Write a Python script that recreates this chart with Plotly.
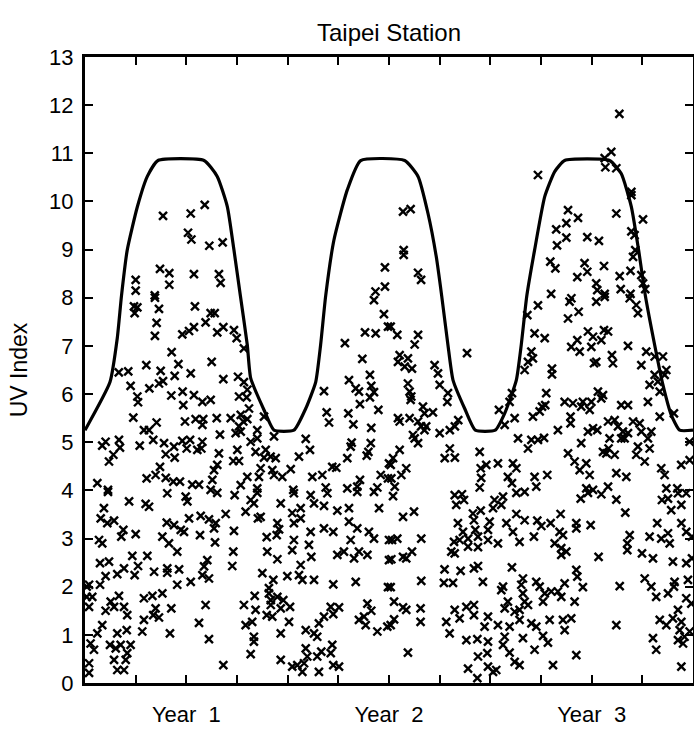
import plotly.graph_objects as go

# ---------------- data ----------------
# x = month since start of record (0-36), y = UV index
obs_a = [(4.62,9.70),(6.26,9.75),(7.09,9.93),(6.10,9.35),(6.30,9.21),(7.36,9.08),(8.15,9.15),(4.44,8.60),
         (4.99,8.51),(4.99,8.27),(6.45,8.49),(7.93,8.49),(8.03,8.31),(3.0,8.37),(3.0,8.15),(4.13,8.05),
         (17.76,8.63),(17.76,8.23),(17.2,8.13)]

obs_b = [(18.83,9.79),(19.28,9.84),(18.87,8.99),(18.87,8.89),(19.72,8.52),(19.9,8.37),(26.82,10.55),
         (31.16,11.03),(30.77,10.90),(30.81,10.71),(31.46,10.69),(32.35,10.20),(32.35,10.13),(31.46,9.75),
         (33.04,9.63),(28.6,9.82),(28.5,9.55),(29.19,9.66),(27.9,9.42),(28.5,9.25),(29.74,9.26),(30.43,9.18),
         (27.95,9.09),(32.35,9.38),(32.54,9.30),(32.58,8.99),(32.45,8.85),(27.55,8.75),(27.85,8.61),
         (29.58,8.72),(29.74,8.54),(30.73,8.66),(29.15,8.43),(31.66,8.45),(32.3,8.56),(32.94,8.47),
         (33.04,8.30),(30.27,8.30),(30.33,8.16),(30.77,8.08),(31.72,8.18),(32.3,8.08),(33.17,8.18),
         (27.6,8.08),(28.8,7.99),(31.64,11.82)]

obs_c = [(2.90,7.82),(3.1,7.80),(2.94,7.68),(4.14,8.0),(4.38,7.77),(4.24,7.48),(4.14,7.21),(6.51,7.82),
         (7.44,7.68),(7.68,7.68),(7.14,7.49),(8.19,7.39),(7.83,7.28),(6.45,7.39),(6.16,7.31),(5.76,7.24),
         (8.82,7.33),(8.98,7.16),(9.41,6.95),(5.13,6.87),(5.53,6.62),(7.50,6.67),(3.63,6.60),(2.0,6.45),
         (2.56,6.47),(4.48,6.48),(5.31,6.38),(6.26,6.43),(4.38,6.22),(4.62,6.27),(3.81,6.12),(2.7,6.17),
         (8.19,6.31),(9.06,6.36),(9.41,6.25),(3.1,5.95),(3.14,5.83),(5.11,5.97),(5.78,6.05),(5.82,5.77),
         (6.45,5.98),(6.95,5.84),(7.44,5.88),(9.12,5.95),(9.57,5.93),(9.61,6.09),(2.86,5.51),(4.24,5.41),
         (5.92,5.43),(6.55,5.48),(7.0,5.48),(6.95,5.36),(7.8,5.50),(8.63,5.50),(9.22,5.57),(9.37,5.43),
         (9.61,5.48),(9.71,5.70),(9.12,5.33),(9.22,5.22),(8.92,5.19),(10.2,5.25),(10.6,5.53),(3.49,5.25),
         (3.79,5.25),(7.99,5.16),(4.04,5.05),(1.22,5.01),(2.01,5.05),(2.07,4.89),(1.02,4.93),(3.24,4.93),
         (4.68,4.98),(5.27,4.91),(5.31,4.68),(4.78,4.75),(5.76,5.03),(6.22,5.05),(6.02,4.87),(6.65,4.84),
         (6.95,5.01),(6.89,4.87),(1.68,4.74),(1.42,4.60),(7.93,4.77),(7.83,4.53),(7.64,4.42),(7.54,4.22),
         (8.78,4.61),(9.12,4.61),(9.02,4.84),(9.81,5.01),(10.2,5.08),(10.1,4.80),(10.7,4.84),(10.6,4.68),
         (10.99,4.70),(11.29,4.67),(11.09,4.42),(11.19,4.32),(10.4,4.46),(10.3,4.28),(11.19,5.12),
         (11.68,4.28),(12.18,4.44),(12.67,4.70),(13.07,5.07),(13.32,4.84),(14.15,6.06),(14.31,5.62),
         (14.45,5.41),(15.39,7.06),(16.42,6.73),(16.58,7.28),(17.21,7.26),(17.11,7.95),(17.70,7.66),
         (17.94,7.40),(15.63,6.29),(16.03,6.12),(16.22,6.05),(16.28,5.79),(16.87,6.40),(16.95,6.17),
         (17.11,6.04),(16.87,5.93),(17.37,5.67),(15.59,5.60),(15.89,5.37),(16.95,5.30),(15.79,4.99),
         (15.73,4.91),(16.92,4.98),(16.78,4.80),(16.68,4.72),(15.53,4.67),(14.64,4.49),(14.88,4.47),
         (13.46,4.28),(14.05,4.32),(18.0,4.56),(17.94,4.25),(16.28,4.22),(17.51,4.32),(15.53,4.04),
         (16.12,4.08),(17.31,4.06),(14.25,4.06),(12.33,4.01),(0.73,4.15),(1.36,4.01),(3.65,4.25),
         (4.18,4.32),(4.44,4.49),(4.78,4.26),(5.23,4.18),(5.62,4.18),(6.35,4.12),(6.75,4.12),(7.44,4.01),
         (9.61,4.28),(9.22,4.11),(10.2,4.04)]

obs_d = [(18.1,7.40),(18.49,7.23),(19.72,7.23),(19.52,7.03),(18.63,6.81),(18.53,6.67),(19.12,6.74),
         (18.93,6.57),(19.36,6.53),(20.7,6.60),(20.9,6.43),(21.0,6.19),(22.62,6.85),(19.12,6.22),
         (19.22,6.05),(19.32,5.95),(19.28,5.88),(21.49,6.02),(21.45,5.84),(20.01,5.74),(20.1,5.60),
         (20.6,5.62),(18.53,5.50),(18.63,5.43),(19.22,5.50),(19.72,5.43),(19.9,5.33),(20.1,5.25),
         (20.2,5.33),(19.42,5.15),(19.52,5.08),(19.72,4.98),(21.0,5.19),(21.6,5.25),(21.9,5.33),
         (22.1,5.46),(21.6,4.87),(21.3,4.67),(21.9,4.68),(18.63,4.84),(18.24,4.67),(18.1,4.53),
         (19.02,4.46),(18.73,4.32),(18.14,4.25),(18.34,4.08),(23.37,4.80),(23.43,4.46),(23.76,4.53),
         (23.46,4.26),(23.37,4.06),(24.51,5.67),(24.85,5.36),(25.14,5.84),(25.28,6.02),(25.44,5.50),
         (24.45,4.56),(25.34,4.56),(25.54,4.46),(25.04,4.28),(25.28,4.15),(25.64,5.08),(26.23,4.87),
         (26.43,5.05),(26.82,5.05),(27.18,5.09),(26.52,5.53),(26.92,5.64),(27.06,5.74),(27.31,6.02),
         (27.25,5.77),(26.03,6.50),(26.23,6.67),(26.52,6.74),(26.43,6.88),(26.19,7.64),(26.62,7.26),
         (27.22,7.16),(26.82,7.84),(27.65,6.53),(27.65,6.41),(28.0,5.25),(26.62,4.28),(27.37,4.32),
         (26.72,4.08),(28.6,7.57),(28.69,7.92),(29.23,7.71),(28.79,6.98),(29.29,6.88),(29.15,7.12),
         (29.78,7.30),(30.08,7.19),(29.98,6.98),(30.57,7.12),(30.73,7.33),(30.97,7.30),(30.27,7.92),
         (30.77,8.02),(30.14,6.64),(30.27,6.67),(31.2,6.81),(31.26,6.64),(32.15,7.00),(32.25,7.99),
         (32.64,7.85),(32.74,7.68),(33.23,6.88),(33.73,6.78),(34.22,6.78),(32.94,6.60),(33.43,6.19),
         (33.73,6.40),(33.92,6.26),(34.32,6.40),(34.42,6.50),(34.03,6.05),(34.87,5.60),(34.03,5.53),
         (28.4,5.84),(28.89,5.81),(29.48,5.84),(29.38,5.74),(29.98,5.84),(29.88,5.67),(30.37,6.05),
         (30.57,5.91),(30.67,5.98),(31.75,5.77),(32.15,5.77),(33.33,5.84),(28.75,5.53),(28.75,5.39),
         (29.38,4.98),(29.78,5.22),(30.08,5.29),(30.33,5.25),(30.97,5.43),(31.36,5.46),(31.56,5.33),
         (31.85,5.22),(31.95,5.08),(32.15,5.19),(32.45,5.43),(32.84,5.39),(32.94,5.22),(33.53,5.22),
         (31.06,5.08),(31.0,4.87),(30.67,4.80),(30.87,4.77),(31.75,5.08),(31.36,4.74),(32.74,4.91),
         (32.64,4.74),(33.33,5.08),(33.43,4.87),(33.14,4.60),(34.12,4.46),(34.32,4.32),(29.68,4.56),
         (29.29,4.42),(29.88,4.32),(28.6,4.77),(28.99,4.60),(31.46,4.36),(32.05,4.28),(35.3,4.53),
         (35.8,4.63),(35.07,4.04),(34.42,4.04),(29.68,4.04),(30.08,4.01),(30.97,4.08),(35.8,5.01)]

obs_e = [(1.36,3.97),(2.61,3.77),(3.59,3.72),(3.79,3.66),(4.87,3.94),(5.96,3.87),(6.06,3.77),(7.83,3.95),
         (8.86,3.90),(10.2,3.95),(10.0,3.73),(9.81,3.80),(11.59,3.73),(12.37,3.94),(13.36,3.90),(13.56,3.73),
         (14.15,3.68),(14.35,3.94),(14.94,3.58),(15.63,3.63),(16.12,3.97),(17.11,3.97),(17.41,3.63),
         (1.12,3.63),(0.93,3.42),(1.32,3.32),(1.72,3.37),(2.27,3.18),(2.15,3.04),(3.0,3.09),(0.83,2.97),
         (1.02,2.90),(4.84,3.33),(5.27,3.28),(5.67,3.18),(5.86,3.14),(6.16,3.42),(6.85,3.47),(7.34,3.40),
         (7.74,3.32),(8.33,3.51),(6.81,3.07),(7.64,3.21),(8.82,3.16),(7.70,2.92),(4.58,3.04),(4.97,2.90),
         (5.46,2.73),(9.51,3.56),(10.24,3.42),(10.4,3.45),(11.39,3.32),(11.49,3.19),(10.76,3.03),
         (11.35,3.07),(12.37,3.32),(12.27,3.53),(12.77,3.63),(12.77,3.42),(12.37,2.97),(13.36,3.14),
         (14.15,3.21),(14.70,3.14),(13.26,2.87),(12.27,2.76),(13.40,2.62),(15.63,3.35),(15.73,2.97),
         (16.12,3.21),(16.81,3.14),(17.11,3.00),(15.33,2.73),(14.94,2.66),(15.93,2.59),(16.22,2.73),
         (16.72,2.66),(10.79,2.73),(11.39,2.57),(8.78,2.73),(8.72,2.43),(18.0,2.97),(18.0,2.55),
         (3.69,2.64),(2.80,2.64),(1.42,2.52),(0.89,2.49),(2.31,2.38),(1.91,2.26),(3.14,2.43),(2.94,2.24),
         (4.09,2.31),(4.87,2.38),(5.57,2.36),(4.87,2.29),(7.05,2.42),(7.24,2.55),(6.95,2.24),(7.34,2.17),
         (6.26,2.10),(5.46,2.04),(1.22,2.22),(0.89,2.04),(0.24,2.04),(0.43,1.79),(0.24,1.58),(10.5,2.28),
         (11.98,2.22),(12.67,2.24),(12.87,2.14),(13.56,2.14),(14.70,2.05),(16.03,2.10),(12.77,2.45),
         (11.15,2.14),(10.89,1.97),(17.94,1.99),(10.89,1.86),(11.0,1.72),(11.39,1.79),(11.74,1.72),
         (11.0,1.62),(11.59,1.55),(12.14,1.58),(10.76,1.41),(11.09,1.38),(12.08,1.27),(10.05,1.81),
         (9.41,1.62),(10.1,1.52),(9.51,1.20),(9.9,1.27),(10.0,0.96),(10.0,0.86),(9.81,0.60),(7.14,1.62),
         (6.75,1.25),(7.34,0.91),(8.19,0.37),(5.11,1.55),(4.58,1.86),(3.99,1.81),(3.49,1.76),(4.18,1.55),
         (4.04,1.41),(4.38,1.36),(3.49,1.31),(3.39,1.07),(5.03,1.03),(2.01,1.81),(1.52,1.69),(1.72,1.58),
         (1.22,1.50),(2.31,1.58),(2.50,1.41),(1.02,1.20),(0.73,1.03),(1.91,1.03),(2.47,1.10),(2.70,0.79),
         (1.48,0.79),(1.82,0.72),(2.11,0.79),(2.50,0.62),(1.72,0.48),(2.41,0.48),(1.91,0.27),(2.31,0.27),
         (0.33,0.82),(0.53,0.69),(0.24,0.41),(0.24,0.21),(0.10,2.0),(0.10,1.79),(11.59,1.03),(13.07,1.10),
         (13.56,1.03),(13.85,1.24),(13.75,0.96),(14.15,1.38),(14.55,1.58),(15.04,1.57),(14.70,1.43),
         (14.64,0.79),(14.55,0.62),(13.99,0.65),(13.75,0.55),(13.07,0.72),(13.16,0.55),(12.97,0.41),
         (12.57,0.37),(12.27,0.34),(12.87,0.23),(13.85,0.23),(11.59,0.48),(14.70,0.37),(15.04,0.34),
         (16.72,1.65),(16.95,1.50),(16.52,1.38),(16.22,1.31),(16.62,1.20),(17.31,1.07),(17.90,1.17)]

obs_f = [(18.24,3.88),(18.83,3.45),(19.48,3.56),(18.18,2.97),(18.49,3.00),(19.91,3.00),(18.14,2.57),
         (18.83,2.62),(19.02,2.59),(19.36,2.73),(19.91,2.12),(18.1,1.99),(18.3,1.69),(18.83,1.57),
         (19.02,1.52),(19.87,1.55),(19.87,1.27),(18.3,1.32),(18.1,1.20),(19.12,0.63),(21.89,3.90),
         (22.32,3.92),(21.98,3.70),(22.44,3.80),(22.97,3.52),(23.43,3.58),(23.03,3.38),(22.08,3.32),
         (22.38,3.14),(21.85,2.93),(21.69,2.73),(21.89,2.69),(22.18,2.97),(22.68,3.00),(23.11,3.18),
         (23.27,3.04),(22.68,2.83),(23.27,2.82),(23.86,2.97),(23.86,3.18),(23.96,3.35),(24.25,3.80),
         (24.65,3.70),(24.75,3.87),(24.16,3.63),(24.95,3.32),(25.54,3.51),(26.03,3.38),(25.34,3.14),
         (24.45,2.90),(25.73,2.93),(25.54,3.95),(26.03,3.97),(26.78,3.37),(27.02,3.26),(27.57,3.32),
         (28.16,3.51),(28.1,3.14),(28.3,3.07),(26.58,3.04),(27.81,2.90),(28.2,2.80),(28.2,2.66),(28.5,2.73),
         (29.09,3.32),(29.09,3.21),(29.94,3.28),(30.41,2.62),(29.35,3.83),(29.78,3.95),(30.57,3.92),
         (31.46,3.81),(31.99,3.54),(25.28,2.40),(25.93,2.17),(25.83,2.04),(24.75,2.00),(24.65,1.93),
         (25.04,1.69),(25.93,1.86),(26.03,1.69),(26.23,1.62),(25.73,1.52),(25.44,1.48),(24.85,1.55),
         (26.72,2.10),(26.92,2.00),(27.22,1.86),(27.61,1.90),(28.0,1.90),(28.2,1.79),(28.4,2.07),
         (27.12,1.69),(28.99,1.69),(29.48,1.99),(29.09,2.35),(29.15,2.21),(21.29,2.36),(22.24,2.33),
         (23.03,2.38),(23.27,2.43),(23.56,2.10),(21.25,2.08),(21.79,2.08),(21.89,1.52),(22.18,1.34),
         (22.58,1.58),(23.03,1.62),(23.03,1.41),(21.39,1.27),(21.59,1.03),(22.58,0.89),(23.23,0.91),
         (23.86,1.38),(23.66,1.17),(23.86,0.86),(23.82,0.62),(23.27,0.55),(24.45,1.20),(24.85,0.96),
         (24.75,0.79),(25.14,0.63),(25.44,0.44),(25.73,0.37),(23.86,0.34),(24.35,0.27),(24.16,0.23),
         (23.23,0.10),(22.68,0.30),(25.73,1.31),(26.43,1.24),(26.72,1.17),(25.93,0.93),(26.62,0.69),
         (27.12,0.98),(27.41,0.84),(27.51,1.31),(28.3,1.31),(28.4,1.10),(28.79,1.34),(29.09,0.58),
         (27.71,0.37),(25.14,1.17),(32.25,3.07),(32.11,2.90),(32.11,2.76),(32.98,2.69),(33.63,2.59),
         (33.43,3.04),(34.12,3.00),(34.52,3.11),(34.62,2.90),(34.81,2.52),(33.88,3.32),(34.16,3.80),
         (34.52,3.83),(35.11,3.94),(35.31,3.70),(35.6,3.94),(34.71,3.59),(35.31,3.32),(35.6,3.14),
         (35.94,3.04),(35.6,2.49),(35.94,2.59),(33.14,2.17),(33.53,2.00),(33.82,1.79),(34.52,1.86),
         (34.91,2.10),(34.87,2.00),(35.7,2.14),(35.6,1.76),(35.9,1.65),(31.66,2.01),(31.46,1.20),
         (34.03,1.31),(34.42,1.20),(34.81,1.34),(35.11,1.52),(35.31,1.27),(35.21,1.10),(35.5,0.96),
         (35.11,0.89),(35.8,1.07),(35.41,0.82),(33.63,0.93),(33.82,0.69),(35.31,0.34)]

# clear-sky maximum UV envelope
envelope_month = [0, 1.48, 1.91, 2.16, 2.5, 3.1, 3.69, 4.32, 7.05, 7.83, 8.43, 8.82, 9.2, 9.61, 9.81,
                  10.6, 11.19, 12.37, 13.07, 13.66, 13.95, 14.25, 14.74, 15.53, 16.32, 18.93, 19.72,
                  20.31, 20.8, 21.12, 21.49, 21.79, 22.48, 23.11, 24.29, 24.85, 25.54, 25.83, 26.16,
                  26.62, 27.22, 27.81, 28.4, 31.06, 31.75, 32.35, 32.78, 33.18, 33.73, 34.22, 34.71,
                  35.21, 36]
envelope_uv = [5.25, 6.25, 7.16, 8.04, 8.99, 9.89, 10.52, 10.85, 10.85, 10.52, 9.89, 8.99, 8.04, 7.02, 6.33,
               5.67, 5.25, 5.25, 5.70, 6.25, 7.02, 8.04, 9.2, 10.24, 10.85, 10.85, 10.52,
               9.75, 8.85, 8.04, 7.02, 6.29, 5.70, 5.25, 5.25, 5.60, 6.29, 7.02, 8.04,
               8.99, 10.10, 10.62, 10.85, 10.85, 10.58, 9.89, 8.99, 8.04, 7.02, 6.19, 5.57,
               5.25, 5.25]

tick_months = list(range(0, 37, 3))
year_label_months = {6: "Year\u00a0\u00a01", 18: "Year\u00a0\u00a02", 30: "Year\u00a0\u00a03"}
y_ticks = list(range(0, 14))

# ---------------- figure ----------------
all_obs = obs_a + obs_b + obs_c + obs_d + obs_e + obs_f
obs_x = [p[0] for p in all_obs]
obs_y = [p[1] for p in all_obs]

FONT = "Liberation Sans Narrow, Liberation Sans, Arial, sans-serif"

fig = go.Figure()
fig.add_trace(go.Scatter(
    x=obs_x, y=obs_y, mode="markers", cliponaxis=False,
    marker=dict(symbol="x-thin", size=8, color="black", line=dict(width=2.4, color="black")),
    showlegend=False, hoverinfo="skip"))
fig.add_trace(go.Scatter(
    x=envelope_month, y=envelope_uv, mode="lines",
    line=dict(color="black", width=3.2, shape="spline", smoothing=0.5),
    showlegend=False, hoverinfo="skip"))

fig.update_layout(
    width=694, height=731,
    margin=dict(l=85, r=1, t=57, b=48, autoexpand=False),
    paper_bgcolor="white", plot_bgcolor="white",
    font=dict(family=FONT, color="black", size=21),
    title=dict(text="Taipei Station", x=0.5, xanchor="center", y=1 - 33 / 731, yanchor="middle",
               xref="paper", yref="container", font=dict(size=24, family=FONT)),
)
fig.update_xaxes(
    range=[0, 36], showgrid=False, zeroline=False, automargin=False,
    showline=True, linewidth=3, linecolor="black", mirror="ticks",
    ticks="inside", ticklen=8, tickwidth=2, tickcolor="black",
    tickvals=tick_months,
    ticktext=[year_label_months.get(m, "") for m in tick_months],
    ticklabelstandoff=10, tickfont=dict(size=22, family=FONT))
fig.update_yaxes(
    range=[0, 13], showgrid=False, zeroline=False, automargin=False,
    showline=True, linewidth=3, linecolor="black", mirror="ticks",
    ticks="inside", ticklen=8, tickwidth=2, tickcolor="black",
    tickvals=y_ticks, ticktext=[str(v) for v in y_ticks],
    ticklabelstandoff=4, tickfont=dict(size=22, family=FONT),
    title=dict(text="UV Index", standoff=16, font=dict(size=23, family=FONT)))

fig.write_html("out.html")
